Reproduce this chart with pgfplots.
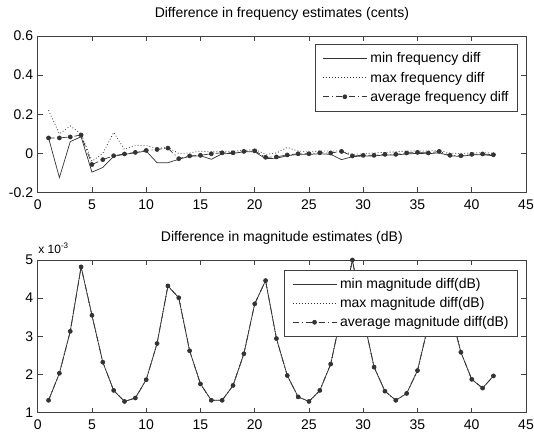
\documentclass[border=0pt]{standalone}
\usepackage{pgfplots}
\pgfplotsset{compat=1.18}
\usepackage{fontspec}
\setmainfont{Liberation Sans}

\pgfplotstableread{
x minf maxf avgf
1 0.079 0.22 0.079
2 -0.124 0.10 0.079
3 0.060 0.14 0.084
4 0.085 0.10 0.094
5 -0.096 -0.04 -0.057
6 -0.072 0.0 -0.032
7 -0.015 0.107 -0.012
8 -0.005 0.02 -0.003
9 0.003 0.04 0.005
10 0.012 0.04 0.015
11 -0.048 0.025 0.020
12 -0.048 0.03 0.027
13 -0.030 0.0 -0.027
14 -0.015 0.002 -0.013
15 -0.012 0.012 -0.010
16 -0.030 0.007 -0.002
17 -0.002 0.010 0.003
18 0.000 0.012 0.003
19 0.008 0.015 0.010
20 0.008 0.020 0.013
21 -0.027 -0.005 -0.020
22 -0.025 0.002 -0.018
23 -0.012 0.030 -0.008
24 -0.005 0.012 -0.002
25 -0.005 0.007 -0.002
26 -0.002 0.012 0.003
27 -0.005 0.012 0.002
28 -0.032 0.012 0.010
29 -0.017 -0.005 -0.013
30 -0.013 -0.002 -0.010
31 -0.013 0.002 -0.010
32 -0.008 0.005 -0.005
33 -0.008 0.008 -0.005
34 -0.003 0.012 0.002
35 0.000 0.012 0.005
36 -0.002 0.012 0.002
37 0.003 0.015 0.010
38 -0.013 0.002 -0.010
39 -0.015 -0.002 -0.012
40 -0.008 0.003 -0.005
41 -0.007 0.003 -0.003
42 -0.012 0.002 -0.007
}\freqtable

\pgfplotstableread{
x minm maxm avgm
1 1.32 1.32 1.32
2 2.03 2.03 2.03
3 3.13 3.13 3.13
4 4.82 4.82 4.82
5 3.55 3.55 3.55
6 2.32 2.32 2.32
7 1.58 1.58 1.58
8 1.29 1.29 1.29
9 1.38 1.38 1.38
10 1.86 1.86 1.86
11 2.81 2.81 2.81
12 4.32 4.32 4.32
13 4.01 4.01 4.01
14 2.62 2.62 2.62
15 1.75 1.75 1.75
16 1.32 1.32 1.32
17 1.32 1.32 1.32
18 1.71 1.71 1.71
19 2.54 2.54 2.54
20 3.85 3.85 3.85
21 4.46 4.46 4.46
22 2.94 2.94 2.94
23 1.97 1.97 1.97
24 1.41 1.41 1.41
25 1.29 1.29 1.29
26 1.58 1.58 1.58
27 2.27 2.27 2.27
28 3.60 3.60 3.60
29 5.00 5.00 5.00
30 3.50 3.50 3.50
31 2.19 2.19 2.19
32 1.56 1.56 1.56
33 1.32 1.32 1.32
34 1.50 1.50 1.50
35 2.10 2.10 2.10
36 3.30 3.30 3.30
37 4.50 4.50 4.50
38 3.70 3.70 3.70
39 2.58 2.58 2.58
40 1.87 1.87 1.87
41 1.64 1.64 1.64
42 1.96 1.96 1.96
}\magtable

\pgfplotsset{
  mlab/.style={
    scale only axis,
    width=488.3pt,
    clip=false,
    xmin=0, xmax=45, xtick={0,5,...,45},
    tick align=inside,
    major tick length=5pt,
    axis line style={black!75, line width=0.7pt},
    every tick/.style={black!75, line width=0.6pt},
    tick label style={font=\fontsize{14}{16}\selectfont},
    xticklabel style={anchor=north, inner sep=0pt, yshift=-6.8pt},
    yticklabel style={anchor=east, inner sep=0pt, xshift=-4.4pt},
    title style={font=\fontsize{14}{16}\selectfont, at={(0.5,1)}, anchor=south, inner sep=0pt, yshift=9.4pt},
    legend cell align=left,
    legend style={font=\fontsize{14}{16}\selectfont, draw=black!75, line width=0.7pt, fill=white,
      inner xsep=7.5pt, inner ysep=7pt, row sep=4.4pt, column sep=1.6pt,
      nodes={inner sep=1.5pt, anchor=west}, anchor=north east},
    legend image code/.code={\draw[#1, mark repeat=2, mark phase=2] plot coordinates {(0pt,0pt) (22pt,0pt) (44pt,0pt)};},
  },
  minl/.style={black!80, line width=0.7pt, solid},
  maxl/.style={black!80, line width=0.8pt, dash pattern=on 0.8pt off 2.2pt},
  avgl/.style={black!80, line width=0.7pt, dash pattern=on 6pt off 3pt on 1pt off 3pt, mark=*, mark size=2pt, mark options={solid, fill=black!80}},
}

\begin{document}
\begin{tikzpicture}[x=1pt,y=1pt]
\useasboundingbox (0,0) rectangle (534,434);
\begin{axis}[mlab,
  at={(37.7pt,241.5pt)}, anchor=south west,
  height=156.5pt,
  ymin=-0.2, ymax=0.6, ytick={-0.2,0,0.2,0.4,0.6},
  yticklabels={-0.2,0,0.2,0.4,0.6},
  xticklabels={0,5,10,15,20,25,30,35,40,45},
  title={Difference in frequency estimates (cents)},
  legend style={at={(0.9836,0.9489)}},
]
\addplot[minl] table[x=x, y=minf] {\freqtable};
\addlegendentry{min frequency diff}
\addplot[maxl] table[x=x, y=maxf] {\freqtable};
\addlegendentry{max frequency diff}
\addplot[avgl] table[x=x, y=avgf] {\freqtable};
\addlegendentry{average frequency diff}
\end{axis}

\begin{axis}[mlab,
  name=bot,
  at={(37.7pt,21.5pt)}, anchor=south west,
  height=152.5pt,
  ymin=1, ymax=5, ytick={1,2,3,4,5},
  yticklabels={1,2,3,4,5},
  xticklabels={0,5,10,15,20,25,30,35,40,45},
  title={Difference in magnitude estimates (dB)},
  legend style={at={(0.9836,0.9377)}},
]
\addplot[minl] table[x=x, y=minm] {\magtable};
\addlegendentry{min magnitude diff(dB)}
\addplot[maxl] table[x=x, y=maxm] {\magtable};
\addlegendentry{max magnitude diff(dB)}
\addplot[avgl] table[x=x, y=avgm] {\magtable};
\addlegendentry{average magnitude diff(dB)}
\end{axis}
\node[anchor=base west, inner sep=0pt, font=\fontsize{12}{14}\selectfont] at ([xshift=0.5pt, yshift=7pt]bot.north west) {x 10\textsuperscript{-3}};
\end{tikzpicture}
\end{document}
